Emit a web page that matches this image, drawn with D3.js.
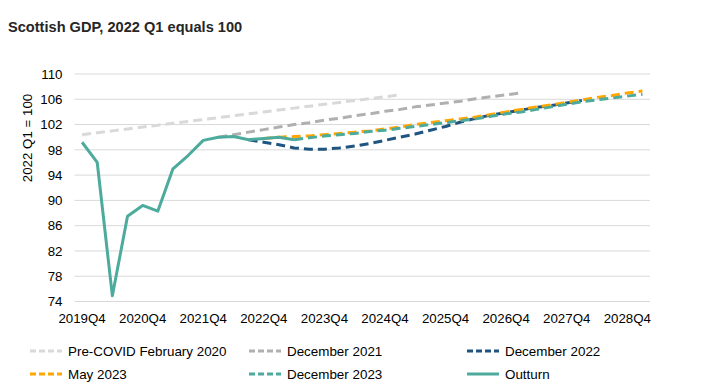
<!DOCTYPE html>
<html>
<head>
<meta charset="utf-8">
<script src="https://cdn.jsdelivr.net/npm/d3@7"></script>
<style>
  body { margin: 0; background: #fff; }
  text { font-family: "Liberation Sans", Arial, sans-serif; }
</style>
</head>
<body>
<svg width="715" height="387"></svg>
<script>
var quarters = [
  "2019Q4", "2020Q1", "2020Q2", "2020Q3", "2020Q4", "2021Q1", "2021Q2", "2021Q3",
  "2021Q4", "2022Q1", "2022Q2", "2022Q3", "2022Q4", "2023Q1", "2023Q2", "2023Q3",
  "2023Q4", "2024Q1", "2024Q2", "2024Q3", "2024Q4", "2025Q1", "2025Q2", "2025Q3",
  "2025Q4", "2026Q1", "2026Q2", "2026Q3", "2026Q4", "2027Q1", "2027Q2", "2027Q3",
  "2027Q4", "2028Q1", "2028Q2", "2028Q3", "2028Q4", "2029Q1"
];
var tickLabels = ["2019Q4", "2020Q4", "2021Q4", "2022Q4", "2023Q4", "2024Q4",
  "2025Q4", "2026Q4", "2027Q4", "2028Q4"];
var yTicks = [74, 78, 82, 86, 90, 94, 98, 102, 106, 110];

// each series: first quarter + values
var preCovidStart = "2019Q4";
var preCovid = [100.4, 100.7, 101.0, 101.3, 101.6, 101.9, 102.2, 102.5, 102.8, 103.1,
  103.4, 103.7, 104.0, 104.3, 104.6, 104.9, 105.2, 105.5, 105.8, 106.1, 106.4, 106.7];

var dec2021Start = "2022Q1";
var dec2021 = [100.0, 100.4, 100.8, 101.2, 101.6, 102.0, 102.3, 102.7, 103.0, 103.4,
  103.7, 104.1, 104.4, 104.8, 105.1, 105.4, 105.7, 106.1, 106.4, 106.7, 107.0];

var dec2022Start = "2022Q3";
var dec2022 = [99.6, 99.2, 98.8, 98.3, 98.1, 98.1, 98.3, 98.6, 99.0, 99.5, 100.0,
  100.5, 101.1, 101.7, 102.4, 103.0, 103.5, 103.9, 104.3, 104.7, 105.0, 105.4, 105.8];

var may2023Start = "2022Q4";
var may2023 = [99.8, 100.0, 100.1, 100.2, 100.4, 100.6, 100.8, 101.0, 101.3, 101.6,
  102.0, 102.3, 102.6, 102.9, 103.2, 103.6, 104.0, 104.4, 104.8, 105.1, 105.5, 105.9,
  106.3, 106.6, 107.0, 107.3];

var dec2023Start = "2023Q2";
var dec2023 = [99.6, 99.9, 100.2, 100.4, 100.6, 100.9, 101.1, 101.4, 101.7, 102.0,
  102.3, 102.6, 102.9, 103.3, 103.7, 104.0, 104.4, 104.8, 105.2, 105.6, 105.9, 106.2,
  106.5, 106.8];

var outturnStart = "2019Q4";
var outturn = [99.2, 96.0, 74.9, 87.5, 89.2, 88.3, 95.0, 97.1, 99.5, 100.0, 100.1,
  99.6, 99.8, 100.0, 99.6];

var series = [
  { name: "Pre-COVID February 2020", start: preCovidStart, values: preCovid, color: "#d9d9d9", dash: true },
  { name: "December 2021", start: dec2021Start, values: dec2021, color: "#b0b0b0", dash: true },
  { name: "December 2022", start: dec2022Start, values: dec2022, color: "#1f5580", dash: true },
  { name: "May 2023", start: may2023Start, values: may2023, color: "#ffa600", dash: true },
  { name: "December 2023", start: dec2023Start, values: dec2023, color: "#4cab9c", dash: true },
  { name: "Outturn", start: outturnStart, values: outturn, color: "#4cab9c", dash: false }
];

var svg = d3.select("svg");

var x = d3.scaleBand().domain(quarters).range([74.5, 650]).padding(0);
var y = d3.scaleLinear().domain([74, 110]).range([301.5, 74]);

// title
svg.append("text")
  .attr("x", 8).attr("y", 32)
  .attr("font-size", 14.6).attr("font-weight", "bold")
  .attr("fill", "#262626")
  .text("Scottish GDP, 2022 Q1 equals 100");

// gridlines
svg.append("g")
  .selectAll("line")
  .data(yTicks)
  .enter()
  .append("line")
  .attr("x1", 74.5).attr("x2", 650)
  .attr("y1", function (d) { return y(d); })
  .attr("y2", function (d) { return y(d); })
  .attr("stroke", "#d9d9d9")
  .attr("stroke-width", 1);

// y axis
var yAxis = svg.append("g")
  .attr("transform", "translate(74.5,0)")
  .call(d3.axisLeft(y).tickValues(yTicks).tickSize(0).tickPadding(12));
yAxis.select(".domain").remove();
yAxis.selectAll("text")
  .attr("font-size", 13.3)
  .attr("font-family", "Liberation Sans, Arial, sans-serif")
  .attr("fill", "#000");

svg.append("text")
  .attr("transform", "translate(32,138) rotate(-90)")
  .attr("text-anchor", "middle")
  .attr("font-size", 13.3)
  .attr("fill", "#000")
  .text("2022 Q1 = 100");

// x axis
var xAxis = svg.append("g")
  .attr("transform", "translate(0,301.5)")
  .call(d3.axisBottom(x).tickValues(tickLabels).tickSize(0).tickPadding(12));
xAxis.select(".domain").remove();
xAxis.selectAll("text")
  .attr("font-size", 13.3)
  .attr("font-family", "Liberation Sans, Arial, sans-serif")
  .attr("fill", "#000");

// lines
var line = d3.line()
  .x(function (d) { return x(d.q) + x.bandwidth() / 2; })
  .y(function (d) { return y(d.v); });

series.forEach(function (s) {
  var i0 = quarters.indexOf(s.start);
  var pts = s.values.map(function (v, k) { return { q: quarters[i0 + k], v: v }; });
  svg.append("path")
    .datum(pts)
    .attr("d", line)
    .attr("fill", "none")
    .attr("stroke", s.color)
    .attr("stroke-width", 3)
    .attr("stroke-linejoin", "round")
    .attr("stroke-dasharray", s.dash ? "9,5" : null);
});

// legend
var legendX = [30, 249, 467];
var legendY = [351, 374];
var legend = svg.append("g");
series.forEach(function (s, k) {
  var lx = legendX[k % 3];
  var ly = legendY[Math.floor(k / 3)];
  legend.append("line")
    .attr("x1", lx).attr("x2", lx + 32)
    .attr("y1", ly).attr("y2", ly)
    .attr("stroke", s.color)
    .attr("stroke-width", 3)
    .attr("stroke-dasharray", s.dash ? "6,3" : null);
  legend.append("text")
    .attr("x", lx + 38).attr("y", ly + 4.5)
    .attr("font-size", 13.4)
    .attr("fill", "#000")
    .text(s.name);
});
</script>
</body>
</html>
